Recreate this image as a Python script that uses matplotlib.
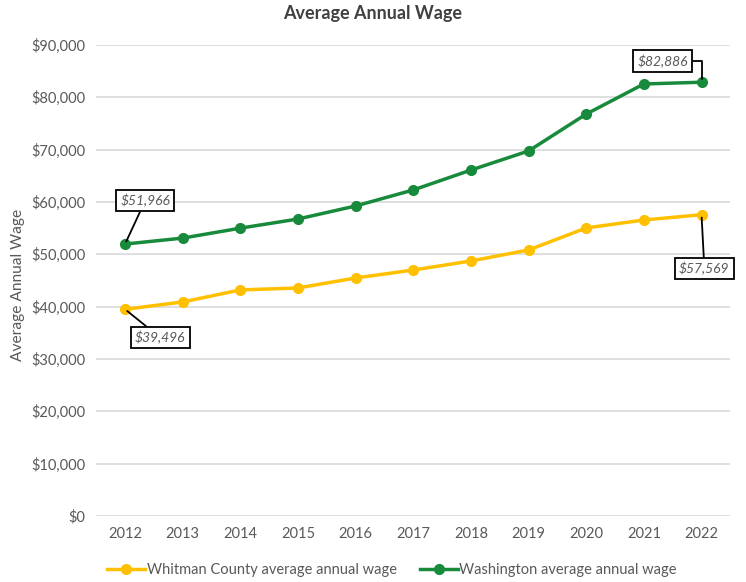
import matplotlib
matplotlib.use("Agg")
import matplotlib.pyplot as plt
from matplotlib.ticker import FuncFormatter

years = [2012, 2013, 2014, 2015, 2016, 2017, 2018, 2019, 2020, 2021, 2022]
whitman = [39496, 40900, 43200, 43570, 45480, 47000, 48730, 50830, 55040, 56560, 57569]
washington = [51966, 53100, 55000, 56750, 59240, 62300, 66100, 69750, 76800, 82550, 82886]
yticks = [0, 10000, 20000, 30000, 40000, 50000, 60000, 70000, 80000, 90000]

plt.rcParams['font.family'] = ['Lato', 'DejaVu Sans']
W, H = 746, 582
fig = plt.figure(figsize=(W / 100, H / 100), dpi=100)
ax = fig.add_axes([0.129, 0.1134, 0.850, 0.8093])

x = list(range(len(years)))
yellow = '#FFC000'
green = '#188A3B'
ax.plot(x, whitman, color=yellow, lw=2.5, marker='o', ms=7, label='Whitman County average annual wage', zorder=3)
ax.plot(x, washington, color=green, lw=2.5, marker='o', ms=7, label='Washington average annual wage', zorder=3)

ax.set_xlim(-0.5, len(years) - 0.5)
ax.set_ylim(0, 90000)
ax.set_yticks(yticks)
ax.yaxis.set_major_formatter(FuncFormatter(lambda v, p: f"${v:,.0f}"))
ax.set_xticks(x)
ax.set_xticklabels([str(y) for y in years])
ax.grid(axis='y', color='#D9D9D9', lw=1.2)
ax.set_axisbelow(True)
for s in ax.spines.values():
    s.set_visible(False)
ax.tick_params(length=0, labelsize=10.5, colors='#595959', pad=8)

fig.text(18 / W, 1 - 285 / H, 'Average Annual Wage', rotation=90, fontsize=11.2,
         color='#595959', ha='center', va='center')
fig.text(0.5, 1 - 14 / H, 'Average Annual Wage', fontsize=13, fontweight='bold',
         color='#404040', ha='center', va='center')

bbox = dict(boxstyle='square,pad=0.3', fc='white', ec='black', lw=1.3)
tkw = dict(fontsize=10, style='italic', color='#595959', ha='center', va='center', bbox=bbox)
akw = dict(arrowstyle='-', color='black', lw=1.3, shrinkA=0, shrinkB=2)

ax.annotate(f"${washington[0]:,}", xy=(0, washington[0]), xytext=(0.35, washington[0] + 8300),
            arrowprops=akw, **tkw)
ax.annotate(f"${whitman[0]:,}", xy=(0, whitman[0]), xytext=(0.61, whitman[0] - 5400),
            arrowprops=akw, **tkw)
ax.annotate(f"${washington[-1]:,}", xy=(10, washington[-1]), xytext=(9.33, washington[-1] + 4050),
            arrowprops=dict(arrowstyle='-', color='black', lw=1.3, shrinkA=0, shrinkB=2,
                            connectionstyle='angle,angleA=0,angleB=90,rad=0'), **tkw)
ax.annotate(f"${whitman[-1]:,}", xy=(10, whitman[-1]), xytext=(10.05, whitman[-1] - 10300),
            arrowprops=akw, **tkw)

h, l = ax.get_legend_handles_labels()
fig.legend(h, l, loc='center', bbox_to_anchor=(392 / W, 1 - 570 / H), ncol=2, frameon=False,
           fontsize=10.5, labelcolor='#595959', handlelength=2.6, columnspacing=1.6,
           handletextpad=0.1, borderaxespad=0, borderpad=0)

fig.savefig('out.png', dpi=100)
